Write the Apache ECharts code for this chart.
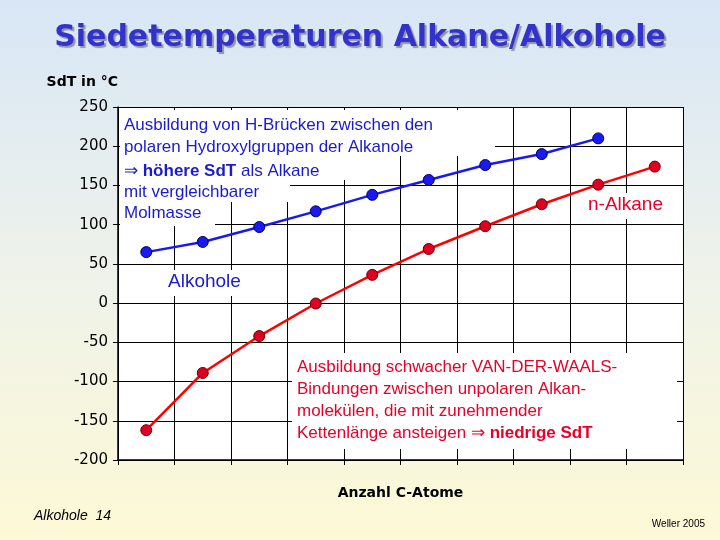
<!DOCTYPE html>
<html><head><meta charset="utf-8">
<script src="https://cdn.jsdelivr.net/npm/echarts@6/dist/echarts.min.js"></script>
<style>html,body{margin:0;padding:0;}body{width:720px;height:540px;background:linear-gradient(#d8e6f6,#eef2ea 50%,#fdf9d6);}#c{width:720px;height:540px;}</style>
</head><body><div id="c"></div>
<script>
const categories=['1','2','3','4','5','6','7','8','9','10'];
const alkane=[-162,-89,-42,-0.5,36,69,98,126,151,174];
const alkohole=[65,78,97,117,138,157,176,190,210];
const yTicks=[-200,250,50];
const chart=echarts.init(document.getElementById('c'));
const f='Verdana, "DejaVu Sans", sans-serif';
const a='17px Arial, "Liberation Sans", sans-serif';
const ab='bold 17px Arial, "Liberation Sans", sans-serif';
chart.setOption({
 backgroundColor:'transparent',
 animation:false,
 title:{text:'Siedetemperaturen Alkane/Alkohole',left:'center',top:18,textStyle:{fontFamily:f,fontSize:30,fontWeight:'bold',color:'#3333cc',textShadowColor:'rgba(0,0,0,0.35)',textShadowOffsetX:2,textShadowOffsetY:2,textShadowBlur:1}},
 grid:{left:118,right:37,top:107,bottom:80,show:true,backgroundColor:'#ffffff',borderWidth:0},
 xAxis:{type:'category',data:categories,boundaryGap:true,name:'Anzahl C-Atome',nameLocation:'middle',nameGap:26,
  nameTextStyle:{fontFamily:f,fontSize:14,fontWeight:'bold',color:'#000'},
  axisLabel:{show:false},axisTick:{show:true,length:5,lineStyle:{color:'#000'}},
  axisLine:{onZero:false,lineStyle:{color:'#000',width:1.5}},splitLine:{show:true,lineStyle:{color:'#000',width:1}}},
 yAxis:{type:'value',min:yTicks[0],max:yTicks[1],interval:yTicks[2],name:'SdT in °C',nameLocation:'end',nameGap:18,
  nameTextStyle:{fontFamily:f,fontSize:14,fontWeight:'bold',color:'#000',align:'right'},
  axisLabel:{fontFamily:f,fontSize:15,color:'#000',margin:10},axisTick:{show:true,length:5,lineStyle:{color:'#000'}},
  axisLine:{show:true,lineStyle:{color:'#000',width:1.5}},splitLine:{lineStyle:{color:'#000',width:1}}},
 series:[
  {type:'line',z:20,data:alkane,symbol:'circle',symbolSize:11,lineStyle:{color:'#ff0000',width:2.5},itemStyle:{color:'#dd0022',borderColor:'#660000',borderWidth:1}},
  {type:'line',z:20,data:alkohole,symbol:'circle',symbolSize:11,lineStyle:{color:'#1a1aee',width:2.5},itemStyle:{color:'#1a1aee',borderColor:'#000066',borderWidth:1}}
 ],
 graphic:[
  {type:'rect',shape:{x:120,y:110,width:375,height:46},style:{fill:'#ffffff'},z:5},
  {type:'rect',shape:{x:120,y:156,width:245,height:24},style:{fill:'#ffffff'},z:5},
  {type:'rect',shape:{x:120,y:180,width:170,height:22},style:{fill:'#ffffff'},z:5},
  {type:'rect',shape:{x:120,y:202,width:95,height:24},style:{fill:'#ffffff'},z:5},
  {type:'text',left:124,top:114,z:6,style:{text:'Ausbildung von H-Brücken zwischen den\npolaren Hydroxylgruppen der Alkanole',font:a,fill:'#1a1ad0',lineHeight:22}},
  {type:'text',left:124,top:161,z:6,style:{rich:{b:{font:ab,fill:'#1a1ad0'},n:{font:a,fill:'#1a1ad0'}},text:'{n|⇒ }{b|höhere SdT}{n| als Alkane}\n{n|mit vergleichbarer}\n{n|Molmasse}',lineHeight:21}},
  {type:'rect',shape:{x:165,y:270,width:92,height:26},style:{fill:'#ffffff'},z:5},
  {type:'text',left:168,top:272,z:6,style:{text:'Alkohole',font:'19px Arial, "Liberation Sans", sans-serif',fill:'#1a1ad0'}},
  {type:'rect',shape:{x:585,y:193,width:96,height:26},style:{fill:'#ffffff'},z:5},
  {type:'text',left:588,top:195,z:6,style:{text:'n-Alkane',font:'19px Arial, "Liberation Sans", sans-serif',fill:'#e8002a'}},
  {type:'rect',shape:{x:292,y:353,width:385,height:96},style:{fill:'#ffffff'},z:5},
  {type:'text',left:297,top:356,z:6,style:{rich:{n:{font:a,fill:'#e8002a'},b:{font:ab,fill:'#e8002a'}},text:'{n|Ausbildung schwacher VAN-DER-WAALS-}\n{n|Bindungen zwischen unpolaren Alkan-}\n{n|molekülen, die mit zunehmender}\n{n|Kettenlänge ansteigen ⇒ }{b|niedrige SdT}',lineHeight:22}},
  {type:'text',left:34,top:509,style:{text:'Alkohole  14',font:'italic 14px Arial, "Liberation Sans", sans-serif',fill:'#000'}},
  {type:'text',right:15,top:519,style:{text:'Weller 2005',font:'10px Arial, "Liberation Sans", sans-serif',fill:'#000'}}
 ]
});
</script></body></html>
